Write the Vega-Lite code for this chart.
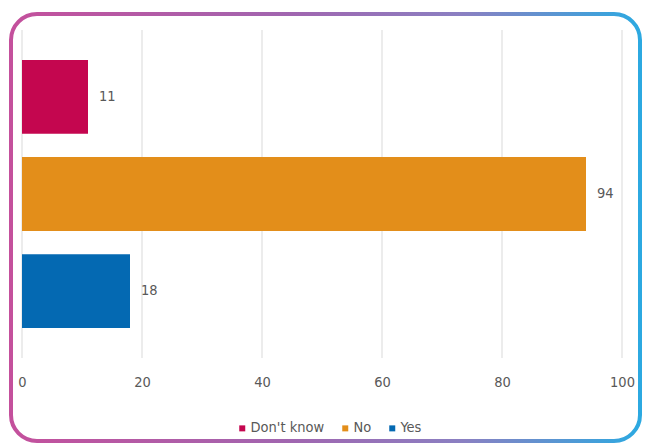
{
  "$schema": "https://vega.github.io/schema/vega-lite/v6.json",
  "width": 629,
  "height": 427,
  "autosize": {"type": "none"},
  "padding": {"left": 11, "top": 14, "right": 5, "bottom": 4},
  "config": {
    "font": "DejaVu Sans Condensed, Liberation Sans, sans-serif",
    "view": {
      "stroke": {"gradient": "linear", "stops": [
        {"offset": 0, "color": "#C4509C"},
        {"offset": 0.45, "color": "#A066B0"},
        {"offset": 0.72, "color": "#8A80C2"},
        {"offset": 1, "color": "#2CA9E1"}
      ]},
      "strokeWidth": 4,
      "cornerRadius": 26
    },
    "axis": {
      "labelFont": "DejaVu Sans Condensed, Liberation Sans, sans-serif",
      "labelFontSize": 14.5,
      "labelColor": "#595959"
    }
  },
  "data": {"values": [
    {"answer": "Don't know", "count": 11},
    {"answer": "No", "count": 94},
    {"answer": "Yes", "count": 18}
  ]},
  "resolve": {"scale": {"y": "independent"}},
  "layer": [
    {
      "data": {"values": [{"v": 0}, {"v": 20}, {"v": 40}, {"v": 60}, {"v": 80}, {"v": 100}]},
      "mark": {"type": "rule", "color": "#D9D9D9", "strokeWidth": 1},
      "encoding": {
        "x": {
          "field": "v", "type": "quantitative", "scale": {"domain": [0, 100], "range": [11, 611]},
          "axis": {
            "orient": "bottom", "values": [0, 20, 40, 60, 80, 100], "offset": -68,
            "grid": false, "domain": false, "ticks": false, "labelPadding": 2,
            "labelFlush": false, "title": null
          }
        },
        "y": {"datum": 0, "type": "quantitative", "scale": {"domain": [0, 1], "range": [16, 344]}, "axis": null},
        "y2": {"datum": 1}
      }
    },
    {
      "layer": [
        {
          "mark": {"type": "bar"},
          "encoding": {
            "color": {
              "field": "answer", "type": "nominal",
              "scale": {"domain": ["Don't know", "No", "Yes"], "range": ["#C4064F", "#E38E1A", "#0469B2"]},
              "legend": {
                "title": null, "orient": "none", "direction": "horizontal",
                "legendX": 224, "legendY": 407,
                "symbolType": "square", "symbolSize": 36, "symbolStrokeWidth": 0,
                "labelFont": "DejaVu Sans Condensed, Liberation Sans, sans-serif", "labelFontSize": 14.5, "labelColor": "#595959",
                "labelOffset": 1, "columnPadding": 13
              }
            }
          }
        },
        {
          "mark": {"type": "text", "align": "left", "baseline": "middle", "dx": 11, "fontSize": 14.5, "color": "#595959"},
          "encoding": {"text": {"field": "count", "type": "quantitative"}}
        }
      ],
      "encoding": {
        "x": {
          "field": "count", "type": "quantitative",
          "scale": {"domain": [0, 100], "range": [11, 611]},
          "axis": {
            "orient": "bottom", "values": [0, 20, 40, 60, 80, 100], "offset": -68,
            "grid": false, "domain": false, "ticks": false, "labelPadding": 2,
            "labelFlush": false, "title": null
          }
        },
        "y": {
          "field": "answer", "type": "nominal",
          "scale": {"domain": ["Don't know", "No", "Yes"], "range": [16, 344], "paddingInner": 0.24, "paddingOuter": 0.31},
          "axis": null
        }
      }
    }
  ]
}
